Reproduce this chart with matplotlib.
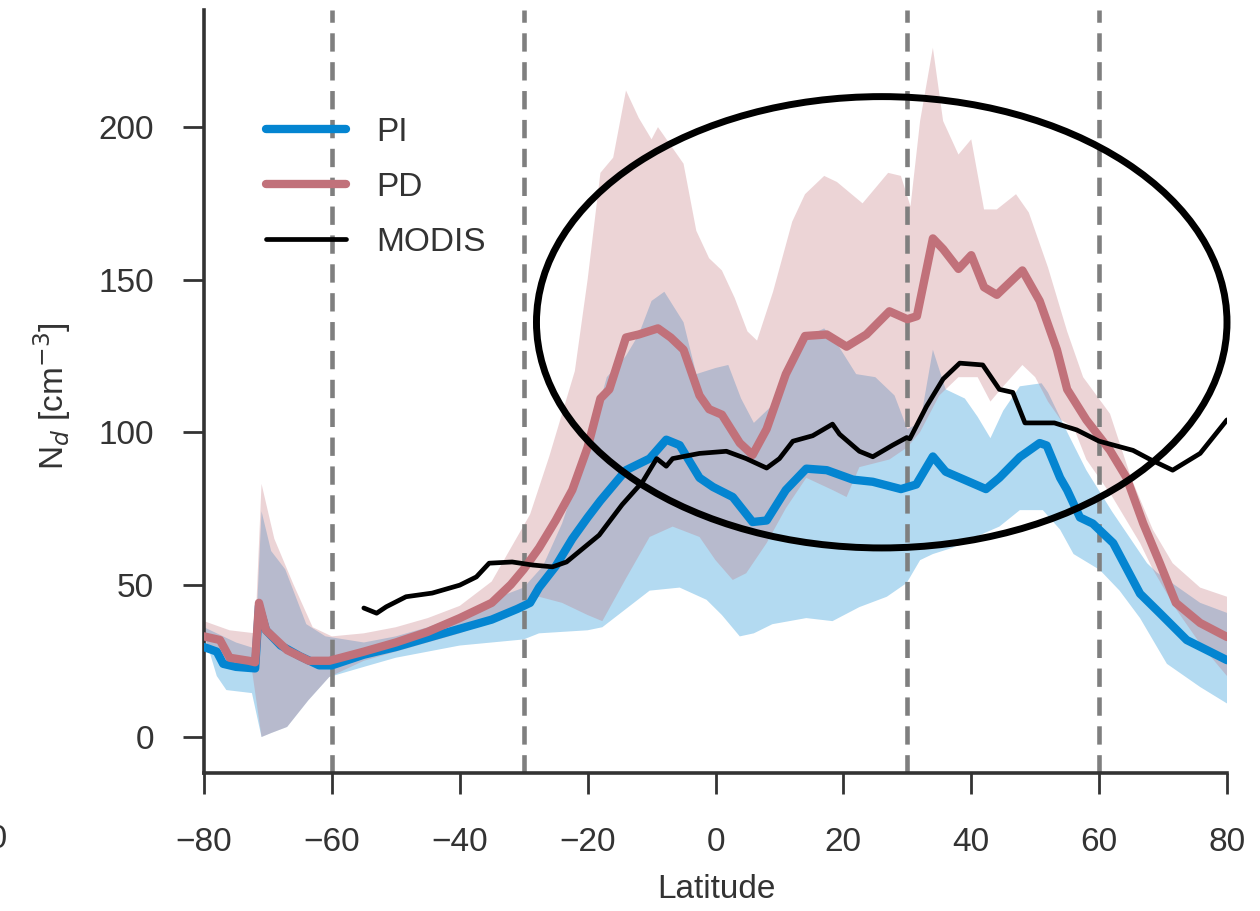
import numpy as np
import matplotlib
matplotlib.use("Agg")
import matplotlib.pyplot as plt
from matplotlib.patches import Ellipse

plt.rcParams['font.family'] = ['Liberation Sans', 'DejaVu Sans']

# ---------------- data ----------------
pi_lat = [-80, -78, -77, -75, -72, -71.4, -70.3, -68, -65, -62, -60, -55, -50, -45, -40, -35, -31, -29,
          -27.6, -25, -22.4, -20, -18, -14, -10.3, -7.7, -5.6, -2.5, -0.4, 2.7, 5.8, 8, 11, 14.2,
          17.4, 21.5, 24.6, 29, 31.4, 34, 36, 39, 42.3, 44.4, 47.6, 50.7, 51.8, 53.9, 55, 57, 59, 62.2,
          66.4, 69.5, 73.7, 80]
pi_val = [29.5, 28, 24, 23, 22.5, 43, 35, 30, 26.5, 23.5, 23.5, 27, 29.5, 32.5, 35.5, 38.5, 42, 44,
          49, 56, 65, 72, 77.5, 87.5, 91.3, 97.5, 95.7, 85, 82, 78.7, 70.5, 71, 81, 88,
          87.5, 84.4, 83.7, 81.3, 82.8, 92, 87, 84.3, 81.3, 85, 91.8, 96.4, 95.6, 85, 81, 72, 70, 63.6,
          47, 40.6, 31.8, 25.2]

pd_lat = [-80, -77.5, -76, -73, -72, -71.4, -70.3, -67, -63.6, -60.4, -55, -50, -45, -40, -35, -32, -30,
          -27.6, -25, -22.4, -20, -18, -16.6, -14, -12, -9, -7, -5, -2.5, -1, 1, 3.8, 5.8, 8, 11,
          14, 17.4, 20.5, 23.6, 27.2, 30, 31.5, 34, 35.6, 38, 40, 42, 44, 48, 50.7, 53.4, 55, 58,
          61.7, 64.3, 66.9, 69.5, 72, 75.8, 80]
pd_val = [33, 31.8, 26, 25, 24.5, 44, 35, 28.5, 25, 25, 28, 31, 34.5, 39, 44, 50, 55,
          62, 71, 81, 95, 111, 114, 131, 132, 134, 131, 127, 112, 107.5, 105.7, 96.4, 92.5, 101, 119,
          131.5, 132, 128, 132, 139.6, 137, 138, 163.5, 160, 153.5, 158, 147.5, 145, 153, 143, 127, 114, 104,
          94, 85, 70, 57, 44, 37.4, 32.8]

modis_lat = [-55, -53, -51.5, -48.4, -44.3, -40, -37.4, -35.4, -31.8, -28.6, -25.5, -23.3, -18.2,
             -14.6, -11.4, -9.2, -7.7, -6.7, -2.5, 1.7, 4.8, 8, 10, 12.1, 15.2, 18.3, 19.4, 22.5,
             24.6, 27.7, 29.9, 30.4, 33, 35.6, 38.2, 41.8, 44.4, 46.5, 48.4, 53, 56.5, 60, 65.3,
             68, 71.5, 75.8, 80]
modis_val = [42.3, 40.6, 42.7, 46, 47.2, 49.8, 52.5, 57, 57.4, 56.4, 55.8, 57.4, 66.2,
             76.2, 83.7, 91.3, 88.8, 91.3, 93, 93.7, 91.3, 88.2, 91.3, 97, 98.8, 102.6, 99.3, 93.7,
             91.9, 95.7, 98.2, 97.8, 108.4, 117.4, 122.6, 122, 114, 113, 103, 103, 100.7, 97, 94,
             91, 87.5, 93, 104]

# PI spread (upper / lower bounds)
pi_up_lat = [-80, -75, -72, -71, -69.5, -67.3, -64, -61, -55, -50, -45, -40, -35, -30, -27, -24, -20,
             -17, -14, -12, -10, -8, -5, -3, 0, 2, 4, 6, 9, 12, 15, 17, 19, 22, 25, 28, 30, 32, 34,
             36, 39, 41, 43, 45, 47.6, 51, 52, 55, 58, 62, 67.5, 69, 75.8, 80]
pi_up = [36, 31, 29, 74, 61, 55, 37, 33, 31, 33, 36, 40, 45, 49, 56, 70, 95,
         118, 125, 132, 143, 146, 136, 119, 121, 122, 111, 103, 109, 125, 132, 134, 129, 119, 118, 112, 101, 103, 127,
         114, 111, 105, 98, 107, 115, 116, 113, 100, 87.5, 74, 57, 54, 44, 40.7]
pi_lo_lat = [-80, -78, -76.5, -72.5, -71, -69.5, -67, -63.7, -60.4, -55, -50, -45, -40, -35, -30, -27.6,
             -20, -17.7, -14, -10.3, -5.6, -1.4, 1, 3.8, 6, 8.9, 14.2, 18.3, 22.5, 26.8, 29.9, 32, 34,
             37, 40, 44.4, 47.6, 51.2, 53.9, 56, 60.1, 63.2, 66.4, 70.6, 75.8, 80]
pi_lo = [34, 20, 15.4, 14.4, 0, 1.3, 3.3, 12, 19.7, 23, 26, 28, 30, 31, 32, 34,
         35, 36, 42, 48, 49, 45, 40, 33, 34, 37, 39, 38, 42.6, 46, 50.5, 58, 60,
         62, 65, 69, 74.4, 74.4, 68, 60, 54.8, 48, 39, 24, 16.4, 11]

# PD spread (upper / lower bounds)
pd_up_lat = [-80, -76, -72, -71, -69, -66, -63, -60, -55, -50, -45, -40, -35, -32, -29, -26, -24,
             -22, -20, -18, -16, -14, -12, -10, -9, -7, -5, -3, -1, 1, 3, 5, 6.5, 9, 12, 14, 17, 19,
             23, 27, 29, 30.5, 32, 34, 35.6, 38, 40, 42, 44, 47, 49, 52, 55, 57.5, 61.7, 65, 68.4,
             71.5, 75.8, 80]
pd_up = [38, 35, 34, 83, 65, 50, 36, 33, 34, 36, 39, 43, 51, 62, 73, 92, 106,
         120, 150, 185, 190, 212, 203, 196, 200, 194, 188, 166, 157, 153, 144, 133, 130, 146, 169, 178, 184, 182,
         175, 185, 184, 174, 202, 226, 202, 191, 196, 173, 173, 178, 172, 154, 133, 118, 106, 85, 68,
         57, 49, 46]
pd_lo_lat = [-80, -76, -72.5, -71, -69.5, -67, -63.7, -60.4, -55, -50, -45, -40, -35, -30, -27.6, -24,
             -20, -17.7, -14, -10.3, -6.7, -2.5, 0, 2.7, 4.8, 8, 11, 14.2, 18.3, 20.5, 22.5, 27.2, 30,
             32, 35, 38, 41, 43, 45, 48, 50, 52, 54, 56, 58, 62, 66.4, 68.4, 72, 76, 80]
pd_lo = [31, 25, 22, 0, 1.3, 3.3, 12, 19.7, 25, 28, 31, 34, 38, 43, 46, 44,
         40, 38, 52, 65.6, 69, 65.6, 58, 51.5, 53.7, 63.6, 75, 85, 81, 78.7, 88.5, 91, 95,
         100, 112, 118, 118, 110, 115, 122, 118, 110, 104, 101.6, 91, 79, 63.6, 55, 42, 30, 20]

boundary_lats = [-60, -30, 30, 60]
xticks = [-80, -60, -40, -20, 0, 20, 40, 60, 80]
yticks = [0, 50, 100, 150, 200]

# ---------------- styling ----------------
c_pi = '#0485d1'
c_pd = '#c1717a'
text_c = '#333333'
fs = 24

W, H = 1260, 911
fig = plt.figure(figsize=(W / 100, H / 100), dpi=100)
ax = fig.add_axes([204 / W, 1 - 773 / H, (1227 - 204) / W, (773 - 10) / H])

ax.fill(np.r_[pi_up_lat, pi_lo_lat[::-1]], np.r_[pi_up, pi_lo[::-1]],
        color=c_pi, alpha=0.3, lw=0)
ax.fill(np.r_[pd_up_lat, pd_lo_lat[::-1]], np.r_[pd_up, pd_lo[::-1]],
        color=c_pd, alpha=0.3, lw=0)

for b in boundary_lats:
    ax.axvline(b, color='#7f7f7f', lw=3.3, ls=(0, (4.0, 2.3)), zorder=1.5)

ax.plot(pi_lat, pi_val, color=c_pi, lw=6.0, solid_capstyle='round',
        solid_joinstyle='round', label='PI', zorder=3)
ax.plot(pd_lat, pd_val, color=c_pd, lw=6.0, solid_capstyle='round',
        solid_joinstyle='round', label='PD', zorder=3)
ax.plot(modis_lat, modis_val, color='black', lw=3.4, solid_capstyle='round',
        solid_joinstyle='round', label='MODIS', zorder=4)

ell = Ellipse((26.0, 136.0), 108.0, 148.0, fill=False, edgecolor='black', lw=5.0,
              zorder=5, clip_on=False)
ax.add_patch(ell)

ax.set_xlim(-80, 80)
ax.set_ylim(-11.8, 238.4)
ax.set_xticks(xticks)
ax.set_yticks(yticks)
ax.set_xticklabels([f'\u2212{abs(t)}' if t < 0 else str(t) for t in xticks])

for s in ['top', 'right']:
    ax.spines[s].set_visible(False)
for s in ['left', 'bottom']:
    ax.spines[s].set_color(text_c)
    ax.spines[s].set_linewidth(2.6)
ax.tick_params(axis='both', direction='out', length=15, width=2.0, color=text_c,
               labelsize=fs, labelcolor=text_c)
ax.tick_params(axis='x', pad=24)
ax.tick_params(axis='y', pad=21)

fig.text(716 / W, 1 - 889 / H, 'Latitude', fontsize=fs, color=text_c, ha='center', va='center')
fig.text(52 / W, 1 - 396 / H, r'N$_d$ [cm$^{-3}$]', fontsize=fs, color=text_c,
         rotation=90, ha='center', va='center')

leg = ax.legend(loc='upper left', bbox_to_anchor=((266 - 204) / 1023, (773 - 117) / 763),
                frameon=False, fontsize=fs, handlelength=2.4, handletextpad=0.9,
                labelspacing=0.72, borderpad=0, borderaxespad=0)
for t in leg.get_texts():
    t.set_color(text_c)

# partially visible tick label from the neighbouring panel
fig.text(8 / W, 1 - 840 / H, '80', fontsize=fs, color=text_c, ha='right', va='center')

fig.savefig('out.png', dpi=100)
